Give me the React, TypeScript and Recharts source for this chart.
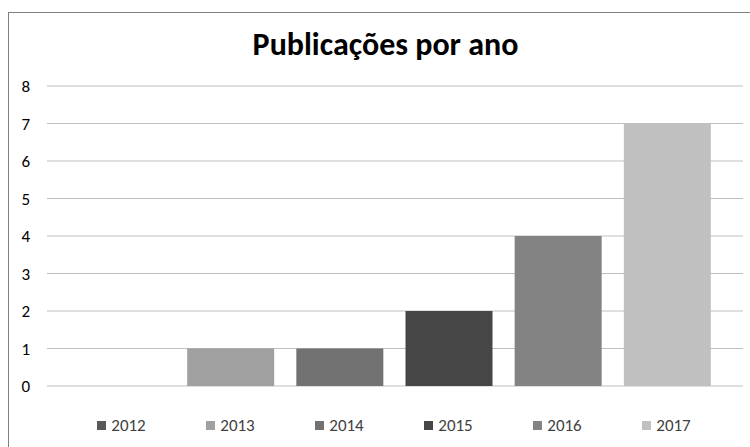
import { BarChart, Bar, XAxis, YAxis, CartesianGrid, Legend, Cell } from 'recharts';

const years = ['2012', '2013', '2014', '2015', '2016', '2017'];
const publications = [0, 1, 1, 2, 4, 7];
const barColors = ['#595959', '#a0a0a0', '#727272', '#464646', '#838383', '#c0c0c0'];
const yTicks = [0, 1, 2, 3, 4, 5, 6, 7, 8];

const data = years.map((year, i) => ({ year, value: publications[i] }));

const font = "Carlito, 'Open Sans', sans-serif";

function YearLegend() {
  return (
    <div style={{ display: 'flex', paddingLeft: 67, height: 26, alignItems: 'center' }}>
      {years.map((year, i) => (
        <div
          key={year}
          style={{
            width: 109,
            display: 'flex',
            justifyContent: 'center',
            alignItems: 'center',
            fontFamily: font,
            fontSize: 17,
            color: '#404040',
          }}
        >
          <span
            style={{
              display: 'inline-block',
              width: 9,
              height: 9,
              background: barColors[i],
              marginRight: 5,
            }}
          />
          {year}
        </div>
      ))}
    </div>
  );
}

export default function App() {
  return (
    <div
      style={{
        position: 'absolute',
        left: 0,
        top: 0,
        width: 750,
        height: 447,
        overflow: 'hidden',
        background: '#fff',
      }}
    >
      <div
        style={{
          position: 'absolute',
          left: 8,
          top: 12,
          width: 800,
          height: 500,
          borderLeft: '1.5px solid #808080',
          borderTop: '1.5px solid #808080',
        }}
      />
      <div
        style={{
          position: 'absolute',
          left: 0,
          top: 25,
          width: 771,
          textAlign: 'center',
          fontFamily: font,
          fontWeight: 700,
          fontSize: 32,
          color: '#000',
        }}
      >
        Publicações por ano
      </div>
      <div style={{ position: 'absolute', left: 0, top: 0 }}>
        <BarChart
          width={750}
          height={447}
          data={data}
          margin={{ top: 86, right: 7, bottom: 35, left: 0 }}
        >
          <CartesianGrid vertical={false} stroke="#bfbfbf" strokeWidth={1.2} />
          <XAxis dataKey="year" hide padding={{ left: 20, right: 21 }} />
          <YAxis
            domain={[0, 8]}
            ticks={yTicks}
            width={47}
            axisLine={false}
            tickLine={false}
            tickSize={0}
            tickMargin={17}
            tick={{ fill: '#000', fontSize: 17, fontFamily: font }}
          />
          <Legend
            content={<YearLegend />}
            wrapperStyle={{ top: 412, bottom: 'auto', left: 0, width: 750 }}
          />
          <Bar dataKey="value" barSize={87} isAnimationActive={false}>
            {data.map((d, i) => (
              <Cell key={d.year} fill={barColors[i]} />
            ))}
          </Bar>
        </BarChart>
      </div>
    </div>
  );
}
